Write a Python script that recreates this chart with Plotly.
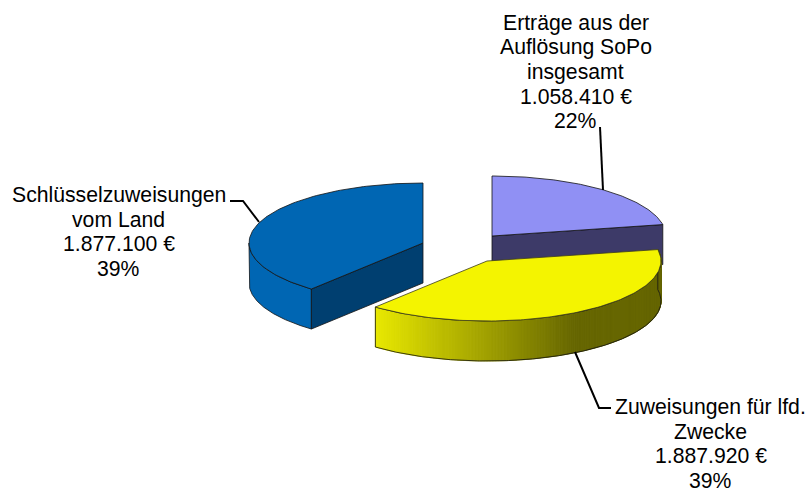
import numpy as np
import plotly.graph_objects as go

categories = ["Erträge aus der<br>Auflösung SoPo<br>insgesamt", "Zuweisungen für lfd.<br>Zwecke", "Schlüsselzuweisungen<br>vom Land"]
values = [1058410, 1887920, 1877100]
amount_labels = ["1.058.410 €", "1.887.920 €", "1.877.100 €"]
percent_labels = ["22%", "39%", "39%"]

top_colors = ["#9090F4", "#F4F400", "#0066B3"]
dark_colors = ["#3D3A68", "#666600", "#003F70"]
centers = [(492, 236), (487, 261), (423, 243)]
RX, RY, DEPTH = 174, 60, 40
label_pos = [(575.5, 23), (710.5, 407), (118.5, 195)]
LINE_PITCH = 24.4
FONT_SIZE = 21.2
leaders = [
    [(600, 127), (603, 190)],
    [(575, 352), (599, 408), (611, 408)],
    [(230, 201), (243, 201), (259, 222)],
]
EDGE = "rgba(20,20,20,0.8)"

fractions = np.array(values) / sum(values)
edges = np.concatenate([[0], np.cumsum(fractions)]) * 2 * np.pi

fig = go.Figure()


def poly(xs, ys, fill, line=EDGE, width=1):
    fig.add_trace(go.Scatter(x=xs, y=ys, mode="lines", fill="toself", fillcolor=fill,
                             line=dict(color=line, width=width), hoverinfo="skip"))


def arc(center, a0, a1, dy=0, n=120):
    t = np.linspace(a0, a1, n)
    return center[0] + RX * np.sin(t), center[1] - RY * np.cos(t) + dy


def wedge(i):
    c = centers[i]
    a0, a1 = edges[i], edges[i + 1]
    ax, ay = arc(c, a0, a1)
    return c, a0, a1, ax, ay


def flat_slice(i):
    c, a0, a1, ax, ay = wedge(i)
    # outer wall, front-facing part
    w0, w1 = max(a0, np.pi / 2), min(a1, 3 * np.pi / 2)
    if w1 > w0:
        tx, ty = arc(c, w0, w1)
        bx, by = arc(c, w0, w1, DEPTH)
        poly(np.r_[tx, bx[::-1], tx[0]], np.r_[ty, by[::-1], ty[0]], top_colors[i])
    # inner cut face
    if i == 0:
        ex, ey = ax[-1], ay[-1]
    else:
        ex, ey = ax[0], ay[0]
    poly([c[0], ex, ex, c[0], c[0]], [c[1], ey, ey + DEPTH, c[1] + DEPTH, c[1]], dark_colors[i])
    # top
    poly(np.r_[c[0], ax, c[0]], np.r_[c[1], ay, c[1]], top_colors[i])


def yellow_slice(i):
    c, a0, a1, ax, ay = wedge(i)
    tx, ty = arc(c, a0, a1, n=280)
    bx, by = arc(c, a0, a1, DEPTH, n=280)
    left, right = tx[-1], 575.0
    c0, c1 = np.array([232, 232, 0]), np.array([0x66, 0x66, 0])
    for k in range(len(tx) - 1):
        mid = (tx[k] + tx[k + 1]) / 2
        f = np.clip((mid - left) / (right - left), 0, 1)
        col = (1 - f) * c0 + f * c1
        rgb = f"rgb({col[0]:.0f},{col[1]:.0f},{col[2]:.0f})"
        poly([tx[k], tx[k + 1], bx[k + 1], bx[k], tx[k]],
             [ty[k], ty[k + 1], by[k + 1], by[k], ty[k]], rgb, line=rgb, width=1)
    fig.add_trace(go.Scatter(x=np.r_[tx, bx[::-1], tx[0]], y=np.r_[ty, by[::-1], ty[0]], mode="lines",
                             line=dict(color=EDGE, width=1), hoverinfo="skip"))
    poly(np.r_[c[0], ax, c[0]], np.r_[c[1], ay, c[1]], top_colors[i], line="rgba(60,60,30,0.8)")


flat_slice(2)
flat_slice(0)
yellow_slice(1)

for pts in leaders:
    fig.add_trace(go.Scatter(x=[p[0] for p in pts], y=[p[1] for p in pts], mode="lines",
                             line=dict(color="black", width=2), hoverinfo="skip"))

for i, cat in enumerate(categories):
    lines = cat.split("<br>") + [amount_labels[i], percent_labels[i]]
    for j, txt in enumerate(lines):
        fig.add_annotation(x=label_pos[i][0], y=label_pos[i][1] + j * LINE_PITCH, xref="x", yref="y",
                           text=txt, showarrow=False, xanchor="center", yanchor="middle", align="center",
                           borderpad=0, font=dict(family="Liberation Sans, Arial", size=FONT_SIZE, color="black"))

fig.update_layout(
    width=806, height=489, margin=dict(l=0, r=0, t=0, b=0), showlegend=False,
    paper_bgcolor="white", plot_bgcolor="white",
    xaxis=dict(range=[0, 806], visible=False, fixedrange=True),
    yaxis=dict(range=[489, 0], visible=False, fixedrange=True),
)
fig.write_html("out.html", config={"displayModeBar": False},
               post_script="document.body.style.margin='0';document.body.style.overflow='hidden';")
